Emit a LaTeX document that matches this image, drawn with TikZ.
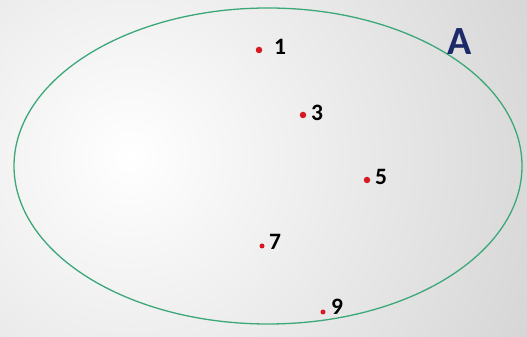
\documentclass[tikz,border=0pt]{standalone}
\usepackage{fontspec}
\newfontfamily\carl{Carlito}
\definecolor{ellgreen}{RGB}{60,168,120}
\definecolor{dotred}{RGB}{215,25,35}
\definecolor{navyA}{RGB}{28,42,105}
\definecolor{bggray}{RGB}{178,178,178}
\begin{document}
\begin{tikzpicture}[x=1pt,y=1pt,
  pt/.style={circle,fill=dotred,inner sep=0pt,minimum size=#1},
  pt/.default=6.5pt,
  num/.style={font=\carl\bfseries\fontsize{23.5}{23.5}\selectfont,text=black,inner sep=0pt},
  setlabel/.style={font=\carl\bfseries\fontsize{40}{40}\selectfont,text=navyA,inner sep=0pt}]
\useasboundingbox (0,0) rectangle (527,337);
\begin{scope}
\clip (0,0) rectangle (527,337);
\shade[inner color=white,outer color=bggray] (130,180) circle (820);
\end{scope}
\draw[ellgreen,line width=1.3pt] (268,171) ellipse [x radius=254, y radius=158];
\node[pt] (p1) at (259,287) {};
\node[num] (l1) at (280,290) {1};
\node[pt] (p3) at (303,222) {};
\node[num] (l3) at (317,224) {3};
\node[pt] (p5) at (367,157) {};
\node[num] (l5) at (381,160) {5};
\node[pt=5pt] (p7) at (262,91) {};
\node[num] (l7) at (275,95) {7};
\node[pt=5pt] (p9) at (323,25) {};
\node[num] (l9) at (337,30) {9};
\node[setlabel] (A) at (460,295) {A};
\end{tikzpicture}
\end{document}
